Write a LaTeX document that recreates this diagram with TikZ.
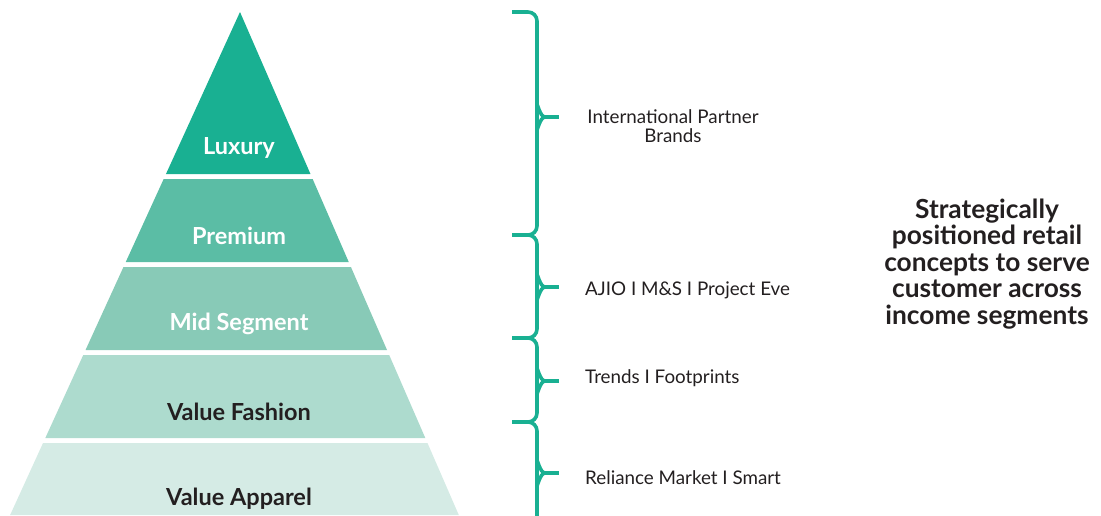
\documentclass[tikz,border=0pt]{standalone}
\usepackage{fontspec}
\setmainfont{Lato}
\usetikzlibrary{calc}

\definecolor{luxgreen}{HTML}{19B092}
\definecolor{premgreen}{HTML}{5BBDA5}
\definecolor{midgreen}{HTML}{88CAB7}
\definecolor{fashgreen}{HTML}{ADDBCE}
\definecolor{appgreen}{HTML}{D5EBE5}
\definecolor{inkgray}{HTML}{231F20}

\tikzset{
  layerlabel/.style={font=\fontsize{23.5}{26}\selectfont\bfseries},
  brandlabel/.style={font=\fontsize{18.8}{19}\selectfont, text=inkgray, inner sep=0pt},
  bracket/.style={draw=luxgreen, line width=3.6pt, rounded corners=9pt}
}

\begin{document}
\begin{tikzpicture}[x=1pt, y=-1pt]
\useasboundingbox (0,0) rectangle (1101,515);

% pyramid: left edge x = 240 - 0.457 (y-12), right edge x = 240 + 0.435 (y-12)
\foreach \yt/\yb/\col in {12/174/luxgreen, 179/262/premgreen, 267/350/midgreen,
                         355/438/fashgreen, 443/515/appgreen}
  \fill[\col] ({240-0.457*(\yt-12)}, \yt) -- ({240+0.435*(\yt-12)}, \yt)
    -- ({240+0.435*(\yb-12)}, \yb) -- ({240-0.457*(\yb-12)}, \yb) -- cycle;

% layer names
\node[layerlabel, text=white]   (lux)  at (239, 148) {Luxury};
\node[layerlabel, text=white]   (prem) at (239, 236) {Premium};
\node[layerlabel, text=white]   (mid)  at (239, 324) {Mid Segment};
\node[layerlabel, text=inkgray] (fash) at (239, 412) {Value Fashion};
\node[layerlabel, text=inkgray] (app)  at (239, 499) {Value Apparel};

% curly brackets with their tips
\foreach \yt/\yb/\ym in {12/235/117, 235/338/287, 338/422/381, 422/545/473} {
  \draw[bracket] (512, \yt) -- (537, \yt) -- (537, \yb) -- (512, \yb);
  \coordinate (tip\ym) at (559, \ym);
  \draw[draw=luxgreen, line width=3.6pt]
    (537, \ym-11) to[out=90, in=180] (545, \ym) to[out=180, in=-90] (537, \ym+11);
  \draw[draw=luxgreen, line width=3.6pt] (543, \ym) -- (tip\ym);
}

% brand groups
\node[brandlabel, align=center] (intl)  at (673, 126) {International Partner\\Brands};
\node[brandlabel, anchor=west]  (ajio)  at (585, 290) {AJIO I M\&S I Project Eve};
\node[brandlabel, anchor=west]  (trend) at (585, 378) {Trends I Footprints};
\node[brandlabel, anchor=west]  (rel)   at (585, 478) {Reliance Market I Smart};

% summary
\node[font=\fontsize{26.3}{26.5}\selectfont\bfseries, text=inkgray, align=center] (summary)
  at (987, 264) {Strategically\\positioned retail\\concepts to serve\\customer across\\income segments};

\end{tikzpicture}
\end{document}
